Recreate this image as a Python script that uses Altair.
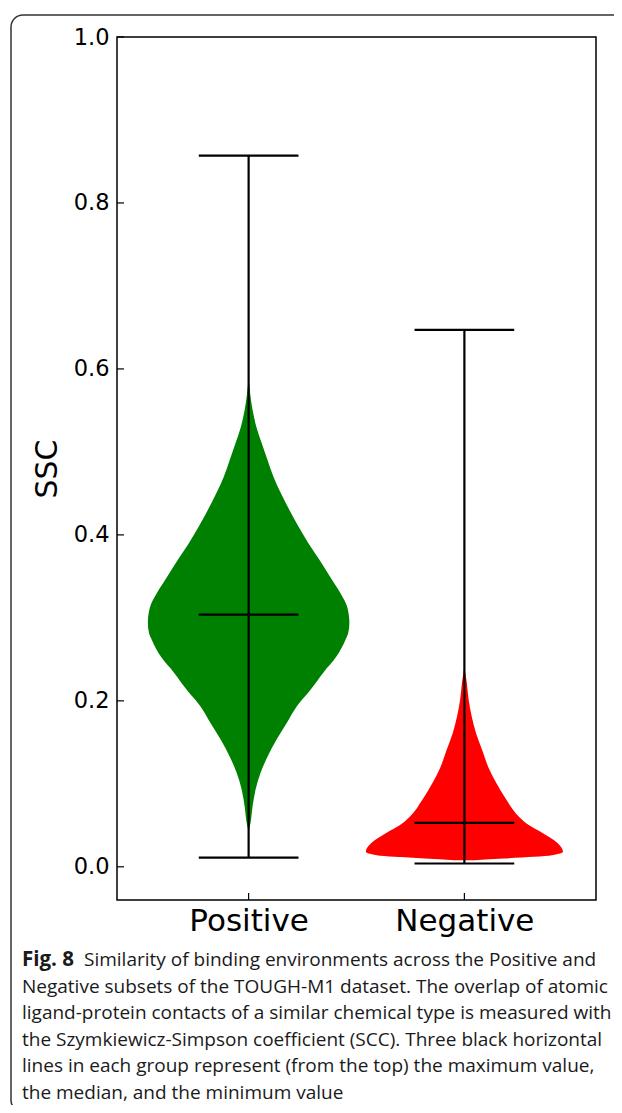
import altair as alt
import pandas as pd

# ---------------- data ----------------
categories = ["Positive", "Negative"]
positions = [1, 2]
colors = ["#008000", "#ff0000"]

mins = [0.011, 0.004]
medians = [0.304, 0.053]
maxes = [0.857, 0.647]

# violin outlines: SSC value and half-width (x units)
pos_y = [0.590, 0.551, 0.530, 0.511, 0.490, 0.470, 0.451, 0.430, 0.410, 0.390,
         0.370, 0.349, 0.330, 0.313, 0.294, 0.282, 0.273, 0.253, 0.234, 0.213,
         0.193, 0.173, 0.153, 0.133, 0.113, 0.093, 0.072, 0.053, 0.042]
pos_w = [0.000, 0.018, 0.036, 0.060, 0.088, 0.115, 0.148, 0.189, 0.231, 0.277,
         0.328, 0.379, 0.425, 0.457, 0.467, 0.462, 0.448, 0.406, 0.346, 0.286,
         0.222, 0.176, 0.129, 0.088, 0.055, 0.032, 0.018, 0.009, 0.000]

neg_y = [0.241, 0.222, 0.201, 0.181, 0.161, 0.141, 0.120, 0.101, 0.081, 0.060,
         0.050, 0.041, 0.029, 0.018, 0.014, 0.012, 0.010, 0.008]
neg_w = [0.000, 0.011, 0.020, 0.034, 0.054, 0.082, 0.111, 0.148, 0.194, 0.254,
         0.300, 0.360, 0.430, 0.457, 0.406, 0.323, 0.185, 0.046]

y_ticks = [0.0, 0.2, 0.4, 0.6, 0.8, 1.0]

caption_bold = "Fig. 8"
caption_lines = [
    "Similarity of binding environments across the Positive and",
    "Negative subsets of the TOUGH-M1 dataset. The overlap of atomic",
    "ligand-protein contacts of a similar chemical type is measured with",
    "the Szymkiewicz-Simpson coefficient (SCC). Three black horizontal",
    "lines in each group represent (from the top) the maximum value,",
    "the median, and the minimum value",
]

# ---------------- tables ----------------
W, H = 479, 863
LINE_HALF = 0.231

rows = []
for cat, p, ys, ws in [(categories[0], positions[0], pos_y, pos_w),
                       (categories[1], positions[1], neg_y, neg_w)]:
    for yv, wv in zip(ys, ws):
        rows.append({"group": cat, "y": yv, "xl": p - wv, "xr": p + wv})
violin_df = pd.DataFrame(rows)

hl = []
for cat, p, a, m, b in zip(categories, positions, mins, medians, maxes):
    for v in (a, m, b):
        hl.append({"group": cat, "v": v, "x1": p - LINE_HALF, "x2": p + LINE_HALF})
hline_df = pd.DataFrame(hl)
vline_df = pd.DataFrame({"pos": positions, "lo": mins, "hi": maxes})
ytick_df = pd.DataFrame({"t": y_ticks})
xtick_df = pd.DataFrame({"p": positions})

xscale = alt.Scale(domain=[0.39, 2.61], nice=False, zero=False)
yscale = alt.Scale(domain=[-0.04, 1.0], nice=False, zero=False)

label_expr = " : ".join(
    [f"datum.value == {p} ? '{c}'" for p, c in zip(positions, categories)]
) + " : ''"

violins = alt.Chart(violin_df).mark_area(orient="horizontal", interpolate="monotone").encode(
    y=alt.Y("y:Q", scale=yscale, stack=None,
            axis=alt.Axis(values=y_ticks, format=".1f", title="SSC", ticks=False,
                          tickSize=0, labelPadding=8, titlePadding=11, grid=False,
                          domain=False)),
    x=alt.X("xl:Q", scale=xscale, stack=None,
            axis=alt.Axis(values=positions, labelExpr=label_expr, title=None,
                          ticks=False, tickSize=0, labelPadding=6, grid=False,
                          domain=False)),
    x2="xr:Q",
    fill=alt.Fill("group:N", scale=alt.Scale(domain=categories, range=colors), legend=None),
    detail="group:N",
)

vlines = alt.Chart(vline_df).mark_rule(color="black", strokeWidth=2.2).encode(
    x=alt.X("pos:Q", scale=xscale), y=alt.Y("lo:Q", scale=yscale), y2="hi:Q"
)
hlines = alt.Chart(hline_df).mark_rule(color="black", strokeWidth=2.2).encode(
    x=alt.X("x1:Q", scale=xscale), x2="x2:Q", y=alt.Y("v:Q", scale=yscale)
)

yticks = alt.Chart(ytick_df).mark_rule(color="black", strokeWidth=1.2).encode(
    y=alt.Y("t:Q", scale=yscale), x=alt.value(0), x2=alt.value(7)
)
xticks = alt.Chart(xtick_df).mark_rule(color="black", strokeWidth=1.2).encode(
    x=alt.X("p:Q", scale=xscale), y=alt.value(H), y2=alt.value(H - 7)
)

# outer rounded border of the figure
border = alt.Chart(pd.DataFrame({"a": [0]})).mark_rect(
    fill=None, stroke="#333333", strokeWidth=1.5, cornerRadius=12
).encode(
    x=alt.value(-106), x2=alt.value(540), y=alt.value(-22), y2=alt.value(1075)
)

CAP_X = -95
CAP_Y0 = 929
CAP_DY = 26.6
cap_font = dict(font="Open Sans", fontSize=19, color="#1a1a1a", align="left",
                baseline="alphabetic")
cap_layers = [
    alt.Chart(pd.DataFrame({"t": [caption_bold]})).mark_text(
        fontWeight="bold", font="Open Sans", fontSize=20.5, color="#1a1a1a",
        align="left", baseline="alphabetic"
    ).encode(text="t:N", x=alt.value(CAP_X), y=alt.value(CAP_Y0))
]
for i, line in enumerate(caption_lines):
    xoff = CAP_X + 62 if i == 0 else CAP_X
    cap_layers.append(
        alt.Chart(pd.DataFrame({"t": [line]})).mark_text(**cap_font).encode(
            text="t:N", x=alt.value(xoff), y=alt.value(CAP_Y0 + i * CAP_DY)
        )
    )

chart = alt.layer(violins, vlines, hlines, yticks, xticks, border, *cap_layers).properties(
    width=W, height=H,
    autosize=alt.AutoSizeParams(type="none"),
    padding={"left": 109, "top": 29, "right": 18, "bottom": 205},
).configure_view(
    stroke="black", strokeWidth=1.5
).configure_axis(
    labelFont="DejaVu Sans", labelFontSize=22.5, labelColor="black",
    titleFont="DejaVu Sans", titleFontSize=30, titleFontWeight="normal", titleColor="black",
).configure_axisX(
    labelFontSize=31
)

chart.save("out.html", embed_options={"renderer": "svg", "actions": False})
